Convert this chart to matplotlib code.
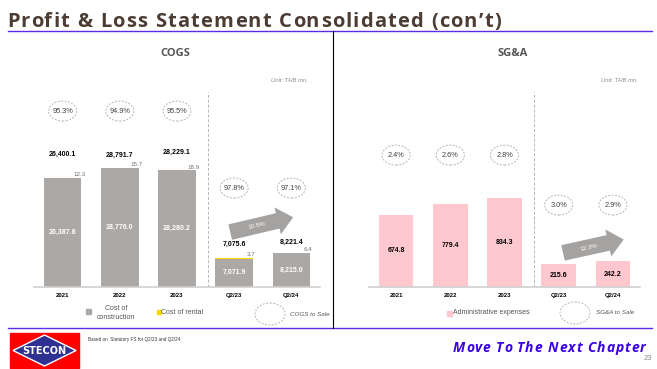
import numpy as np
import matplotlib
matplotlib.use('Agg')
import matplotlib.pyplot as plt
from matplotlib.patches import Ellipse, Rectangle, Polygon
from matplotlib.transforms import blended_transform_factory

plt.rcParams['font.family'] = ['Liberation Sans', 'DejaVu Sans']

periods = ['2021', '2022', '2023', 'Q2/23', 'Q2/24']
cost_construction = [26387.8, 28776.0, 28280.2, 7071.9, 8215.0]
cost_rental = [12.3, 15.7, 18.9, 3.7, 6.4]
cogs_total = [26400.1, 28791.7, 28229.1, 7075.6, 8221.4]
cogs_to_sale = ['95.3%', '94.9%', '95.5%', '97.8%', '97.1%']
admin_expenses = [674.8, 779.4, 834.3, 215.6, 242.2]
sga_to_sale = ['2.4%', '2.6%', '2.8%', '3.0%', '2.9%']
cogs_growth = '19.5%'
sga_growth = '12.3%'

W, H = 657, 369
GRAY = '#aba8a6'
PINK = '#ffc7ce'
YELLOW = '#ffd700'
PURPLE = '#5b2be6'
DASH = '#b5b5b5'

fig = plt.figure(figsize=(W / 100, H / 100), dpi=100)
bg = fig.add_axes([0, 0, 1, 1])
bg.set_xlim(0, W)
bg.set_ylim(H, 0)
bg.axis('off')
renderer = fig.canvas.get_renderer()


def text_width(s, **kw):
    t = bg.text(0, 0, s, **kw)
    w = t.get_window_extent(renderer=renderer).width
    t.remove()
    return w


def tracked_text(x, y, s, spacing, ha='left', **kw):
    # draw text with extra letter spacing (px)
    ref = text_width('x', **kw)
    offs = [text_width(s[:i] + 'x', **kw) - ref + i * spacing for i in range(len(s))]
    total = text_width(s, **kw) + (len(s) - 1) * spacing
    if ha == 'right':
        x = x - total
    for ch, o in zip(s, offs):
        if ch != ' ':
            bg.text(x + o, y, ch, **kw)


def px_axes(x0, y0, x1, y1):
    # pixel box (top-left origin) -> figure axes
    return fig.add_axes([x0 / W, 1 - y1 / H, (x1 - x0) / W, (y1 - y0) / H])


def style_ax(ax, ymax):
    ax.set_xlim(-0.5, 4.5)
    ax.set_ylim(0, ymax)
    for s in ['top', 'right', 'left']:
        ax.spines[s].set_visible(False)
    ax.spines['bottom'].set_color('#d0d0d0')
    ax.spines['bottom'].set_linewidth(1.2)
    ax.set_yticks([])
    ax.set_xticks(range(len(periods)))
    ax.set_xticklabels(periods, fontsize=4.3, fontweight='bold')
    ax.tick_params(axis='x', length=0, pad=4)
    ax.patch.set_alpha(0)
    ax.axvline(2.55, ymax=0.86, color=DASH, lw=0.7, ls=(0, (3, 2)))


def pct_ellipses(ax, labels, yfrac_year, yfrac_q, w):
    tr = blended_transform_factory(ax.transData, ax.transAxes)
    for i, lab in enumerate(labels):
        yf = yfrac_year if i < 3 else yfrac_q
        ax.add_patch(Ellipse((i, yf), w, 0.088, transform=tr, fill=False,
                             ec=DASH, lw=0.7, ls=(0, (2, 1.5)), clip_on=False))
        ax.text(i, yf, lab, transform=tr, ha='center', va='center',
                fontsize=5.3, color='#404040')


def growth_arrow(ax, xy_from, xy_to, label, angle):
    ax.annotate('', xy=xy_to, xytext=xy_from,
                arrowprops=dict(arrowstyle='simple,head_length=0.6,head_width=1.05,tail_width=0.6',
                                mutation_scale=19, fc='#a5a3a1', ec='none',
                                shrinkA=0, shrinkB=0))
    mx = xy_from[0] + (xy_to[0] - xy_from[0]) * 0.42
    my = xy_from[1] + (xy_to[1] - xy_from[1]) * 0.42
    ax.text(mx, my, label, ha='center', va='center', rotation=angle,
            fontsize=4.5, color='white')


# ---------------- header ----------------
tracked_text(7, 27, 'Profit & Loss Statement Consolidated (con\u2019t)', 1.2,
             fontsize=14.5, fontweight='bold', family='Open Sans', color='#4b3d33',
             va='baseline')
bg.plot([8, 652], [31, 31], color=PURPLE, lw=1.0)
bg.plot([8, 652], [328, 328], color=PURPLE, lw=1.0)
bg.plot([333, 333], [31, 328], color='black', lw=0.8)
bg.text(175, 53, 'COGS', fontsize=8, fontweight='bold', family='Open Sans',
        color='#555555', ha='center', va='center')
bg.text(513, 53, 'SG&A', fontsize=8, fontweight='bold', family='Open Sans',
        color='#555555', ha='center', va='center')
bg.text(308, 80, 'Unit: THB mn.', fontsize=4.2, style='italic', color='#8a8a8a',
        ha='right', va='center')
bg.text(638, 80, 'Unit: THB mn.', fontsize=4.2, style='italic', color='#8a8a8a',
        ha='right', va='center')

# ---------------- COGS ----------------
ax1 = px_axes(34, 60, 320, 287)
style_ax(ax1, 55000)
x = np.arange(len(periods))
bw = 0.66
ax1.bar(x, cost_construction, bw, color=GRAY, lw=0)
ax1.bar(x, cost_rental, bw, bottom=cost_construction, color=YELLOW,
        ec=YELLOW, lw=[0, 0, 0, 0.8, 0])
total_pad = [24, 13, 18, 13, 11]
for i in range(len(periods)):
    top = cost_construction[i] + cost_rental[i]
    ax1.annotate(f'{cogs_total[i]:,.1f}', (i, top), xytext=(0, total_pad[i] * 0.72),
                 textcoords='offset points', ha='center', va='center',
                 fontsize=5, fontweight='bold', color='black')
    ax1.annotate(f'{cost_rental[i]:.1f}', (i + bw / 2, top), xytext=(-1.5, 0.5),
                 textcoords='offset points', ha='center', va='bottom',
                 fontsize=4.5, color='#707070')
    ax1.text(i, cost_construction[i] / 2, f'{cost_construction[i]:,.1f}',
             ha='center', va='center', fontsize=5, fontweight='bold', color='white')
pct_ellipses(ax1, cogs_to_sale, 0.775, 0.436, 0.49)
growth_arrow(ax1, (2.93, 13300), (4.03, 16900), cogs_growth, 13)

# ---------------- SG&A ----------------
ax2 = px_axes(369, 60, 640, 287)
style_ax(ax2, 2127)
bw2 = 0.64
ax2.bar(x, admin_expenses, bw2, color=PINK, lw=0)
for i, v in enumerate(admin_expenses):
    ax2.text(i, v / 2, f'{v:,.1f}', ha='center', va='center', fontsize=5,
             fontweight='bold', color='black')
pct_ellipses(ax2, sga_to_sale, 0.581, 0.361, 0.52)
growth_arrow(ax2, (3.08, 320), (4.2, 445), sga_growth, 13)

# ---------------- legends ----------------
bg.add_patch(Rectangle((86, 308.5), 5, 5, color=GRAY))
bg.text(116, 313, 'Cost of\nconstruction', fontsize=5, color='#555555',
        ha='center', va='center', linespacing=1.3)
bg.add_patch(Rectangle((157, 309.5), 4, 4, color=YELLOW))
bg.text(161, 312, 'Cost of rental', fontsize=5, color='#555555', va='center')
bg.add_patch(Ellipse((270, 314), 30, 22, fill=False, ec=DASH, lw=0.7, ls=(0, (2, 1.5))))
bg.text(290, 314, 'COGS to Sale', fontsize=4.5, style='italic', color='#555555',
        va='center')
bg.add_patch(Rectangle((447, 310.5), 5, 5, color=PINK))
bg.text(453, 313, 'Administrative expenses', fontsize=5, color='#555555', va='center')
bg.add_patch(Ellipse((575, 313), 30, 22, fill=False, ec=DASH, lw=0.7, ls=(0, (2, 1.5))))
bg.text(596, 313, 'SG&A to Sale', fontsize=4.5, style='italic', color='#555555',
        va='center')

# ---------------- footer ----------------
bg.add_patch(Rectangle((10, 333), 69, 35, color='#ff0000'))
bg.add_patch(Polygon([(13, 350.5), (44.5, 335), (76, 350.5), (44.5, 366)],
                     closed=True, fc='#2e3192', ec='white', lw=1.0))
bg.text(44.5, 351, 'STECON', fontsize=7, fontweight='bold', color='white',
        ha='center', va='center', family='DejaVu Sans')
bg.text(88, 340, 'Based on  Statutory FS for Q2/23 and Q2/24', fontsize=3.3,
        color='#333333', va='center')
tracked_text(646, 348, 'Move To The Next Chapter', 0.95, ha='right',
             fontsize=10, fontweight='bold', style='italic', family='Open Sans',
             color='#3a00e6', va='center')
bg.text(652, 358, '23', fontsize=5.5, color='#8a8a8a', ha='right', va='center')

fig.savefig('out.png', dpi=100)
